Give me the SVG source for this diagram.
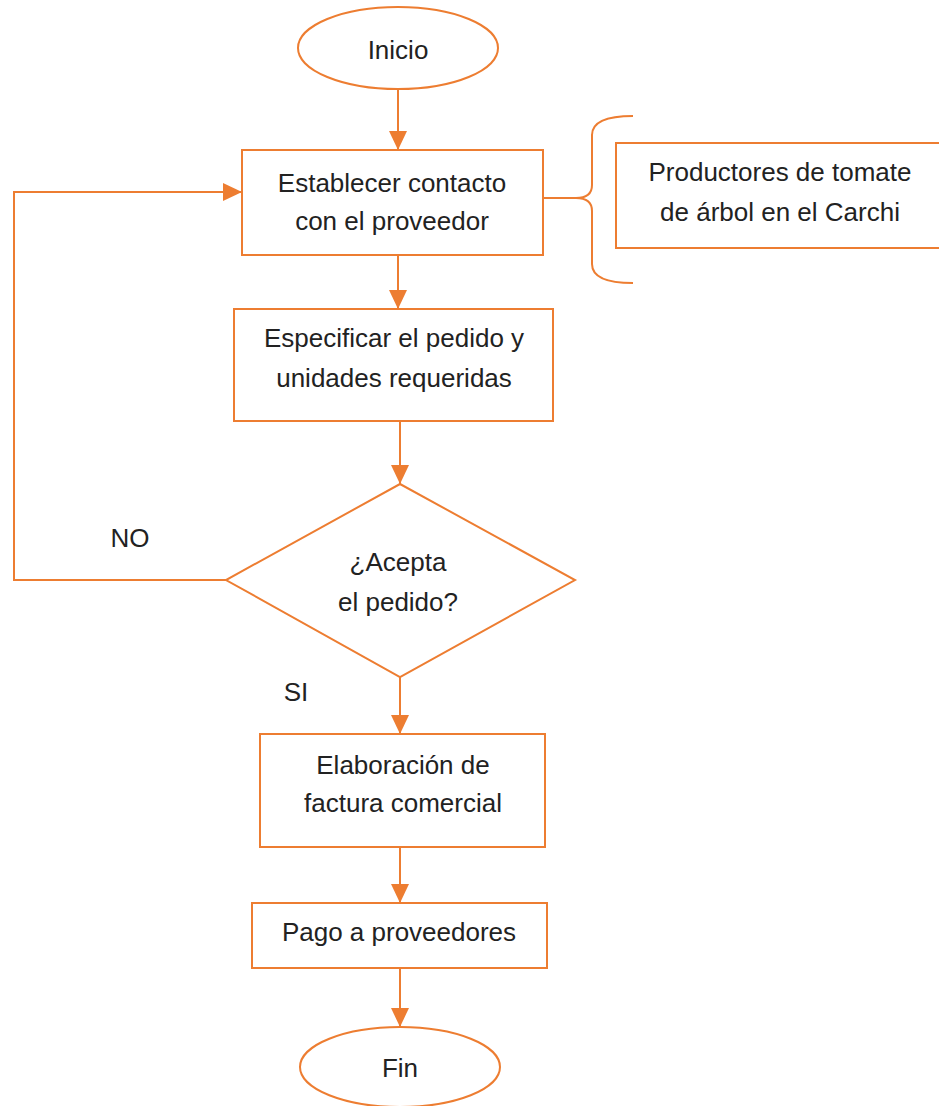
<svg xmlns="http://www.w3.org/2000/svg" width="939" height="1106" viewBox="0 0 939 1106">
  <style>
    .shape { fill: #ffffff; stroke: #ED7D31; stroke-width: 2; }
    .line { fill: none; stroke: #ED7D31; stroke-width: 2; }
    .label { font-family: "Liberation Sans", Arial, sans-serif; font-size: 26px; fill: #222222; text-anchor: middle; }
  </style>
  <defs>
    <marker id="head" markerWidth="20" markerHeight="20" refX="19" refY="10" orient="auto" markerUnits="userSpaceOnUse" viewBox="0 0 20 20">
      <path d="M0,1 L19,10 L0,19 Z" fill="#ED7D31"/>
    </marker>
  </defs>

  <!-- connectors -->
  <g id="connectors">
    <line class="line" x1="398" y1="90" x2="398" y2="150" marker-end="url(#head)"/>
    <line class="line" x1="398" y1="255" x2="398" y2="309" marker-end="url(#head)"/>
    <line class="line" x1="400" y1="421" x2="400" y2="484" marker-end="url(#head)"/>
    <line class="line" x1="400" y1="677" x2="400" y2="734" marker-end="url(#head)"/>
    <line class="line" x1="400" y1="847" x2="400" y2="903" marker-end="url(#head)"/>
    <line class="line" x1="400" y1="968" x2="400" y2="1027" marker-end="url(#head)"/>
    <!-- NO loop back to the first step -->
    <polyline class="line" points="226,580 14,580 14,192 242,192" marker-end="url(#head)"/>
    <!-- link to the supplier note -->
    <line class="line" x1="543" y1="198" x2="580" y2="198"/>
    <path class="line" d="M633,116 Q592,116 592,135 L592,185 Q592,198 576,198 Q592,198 592,211 L592,264 Q592,283 633,283"/>
  </g>

  <g id="inicio">
    <ellipse class="shape" cx="398" cy="48" rx="100" ry="41"/>
    <text class="label" x="398" y="59">Inicio</text>
  </g>

  <g id="establecer">
    <rect class="shape" x="242" y="150" width="301" height="105"/>
    <text class="label" x="392" y="192">Establecer contacto</text>
    <text class="label" x="392" y="230">con el proveedor</text>
  </g>

  <g id="productores">
    <rect class="shape" x="616" y="143" width="330" height="105"/>
    <text class="label" x="780" y="181">Productores de tomate</text>
    <text class="label" x="780" y="221">de árbol en el Carchi</text>
  </g>

  <g id="especificar">
    <rect class="shape" x="234" y="309" width="319" height="112"/>
    <text class="label" x="394" y="347">Especificar el pedido y</text>
    <text class="label" x="394" y="387">unidades requeridas</text>
  </g>

  <g id="acepta">
    <polygon class="shape" points="400,484 575,580 400,677 226,580"/>
    <text class="label" x="398" y="571">¿Acepta</text>
    <text class="label" x="398" y="611">el pedido?</text>
  </g>

  <g id="etiquetas">
    <text class="label" x="130" y="547">NO</text>
    <text class="label" x="296" y="701">SI</text>
  </g>

  <g id="factura">
    <rect class="shape" x="260" y="734" width="285" height="113"/>
    <text class="label" x="403" y="774">Elaboración de</text>
    <text class="label" x="403" y="812">factura comercial</text>
  </g>

  <g id="pago">
    <rect class="shape" x="252" y="903" width="295" height="65"/>
    <text class="label" x="399" y="941">Pago a proveedores</text>
  </g>

  <g id="fin">
    <ellipse class="shape" cx="400" cy="1067" rx="100" ry="40"/>
    <text class="label" x="400" y="1077">Fin</text>
  </g>
</svg>
